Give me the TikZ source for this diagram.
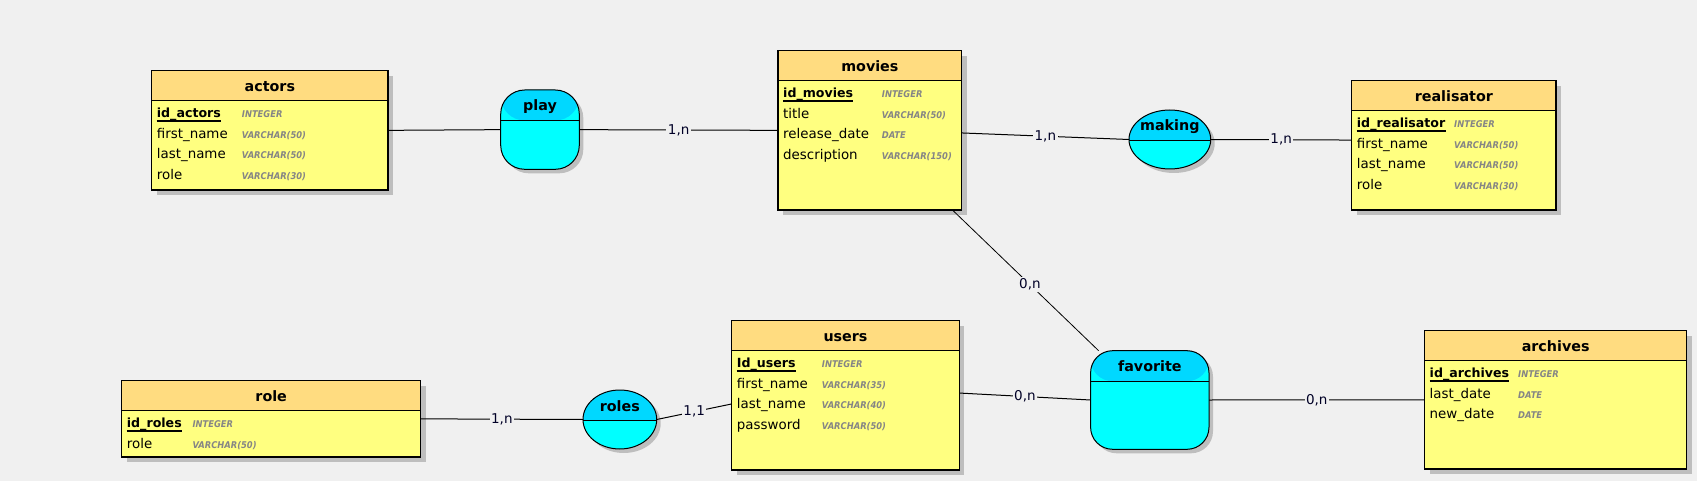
\documentclass[tikz,border=0pt]{standalone}
\usepackage{fontspec}
\setmainfont{DejaVu Sans}
\newfontfamily\typefont{DejaVu Sans Condensed}
\usetikzlibrary{fit,shapes.geometric}
\definecolor{bg}{HTML}{F0F0F0}
\definecolor{tblhead}{HTML}{FFDC80}
\definecolor{tblbody}{HTML}{FFFF80}
\definecolor{enthead}{HTML}{00D8FF}
\definecolor{entbody}{HTML}{00FFFF}
\definecolor{shadowc}{HTML}{BEBEBE}
\definecolor{typec}{HTML}{858585}
\tikzset{
  tbl/.style={draw=black, line width=1.2pt, fill=tblbody, inner sep=0pt, outer sep=0pt,
    preaction={fill=shadowc, transform canvas={shift={(5pt,-5pt)}}},
    path picture={\fill[tblhead] ([yshift=2pt]path picture bounding box.north west) rectangle ([yshift=-29.5pt]path picture bounding box.north east);
      \draw[line width=1.2pt] ([yshift=-29.5pt]path picture bounding box.north west) -- ([yshift=-29.5pt]path picture bounding box.north east);}},
  ent/.style={draw=black, line width=1pt, fill=entbody, inner sep=0pt, outer sep=0pt,
    preaction={fill=shadowc, transform canvas={shift={(4pt,-4pt)}}},
    path picture={\fill[enthead] ([yshift=2pt]path picture bounding box.north west) rectangle ([yshift=-30.5pt]path picture bounding box.north east);
      \draw[line width=1pt] ([yshift=-30.5pt]path picture bounding box.north west) -- ([yshift=-30.5pt]path picture bounding box.north east);}},
  ttl/.style={inner sep=0pt, anchor=base, font=\fontsize{14.3}{16}\selectfont\bfseries},
  keyf/.style={inner sep=0pt, anchor=base west, font=\fontsize{12.6}{15}\selectfont\bfseries},
  fld/.style={inner sep=0pt, anchor=base west, font=\fontsize{13.4}{15}\selectfont},
  typf/.style={inner sep=0pt, anchor=base west, text=typec, font=\typefont\fontsize{9.3}{11}\selectfont\bfseries\itshape},
  conn/.style={draw=black, line width=1pt},
  lbl/.style={fill=bg, inner sep=1.5pt, font=\fontsize{13.5}{15}\selectfont, text=black!85!blue}
}
\newcommand\tbfields[5]{%
  \node[keyf] (#1-k) at ([xshift=5pt,yshift=-46.7pt]#1.north west) {#3};
  \draw[line width=1.3pt] ([yshift=-3.5pt]#1-k.base west) -- ([yshift=-3.5pt]#1-k.base east);
  \node[typf] (#1-tk) at ([xshift=#2pt,yshift=-46.7pt]#1.north west) {#4};
  \foreach \fn/\ft [count=\i] in {#5} {
    \node[fld] (#1-f\i) at ([xshift=5pt,yshift={-46.7pt-20.7pt*\i}]#1.north west) {\fn};
    \node[typf] (#1-t\i) at ([xshift=#2pt,yshift={-46.7pt-20.7pt*\i}]#1.north west) {\ft};
  }
}
\begin{document}
\begin{tikzpicture}[x=1pt,y=-1pt]
\path[fill=bg] (0,0) rectangle (1697,481);
\useasboundingbox (0,0) rectangle (1697,481);

% tables
\node[tbl, fit={(151.7,70.7) (388,190)}] (actors) {};
\node[tbl, fit={(778,50.7) (961.7,210)}] (movies) {};
\node[tbl, fit={(1351.7,80.7) (1556,210)}] (realisator) {};
\node[tbl, fit={(121.7,380.7) (420.7,457)}] (role) {};
\node[tbl, fit={(731.7,320.7) (959.3,470)}] (users) {};
\node[tbl, fit={(1424.5,330.7) (1686.8,469)}] (archives) {};

\node[ttl] (actors-t) at ([yshift=-20.5pt]actors.north) {actors};
\node[ttl] (movies-t) at ([yshift=-20.5pt]movies.north) {movies};
\node[ttl] (realisator-t) at ([yshift=-20.5pt]realisator.north) {realisator};
\node[ttl] (role-t) at ([yshift=-20.5pt]role.north) {role};
\node[ttl] (users-t) at ([yshift=-20.5pt]users.north) {users};
\node[ttl] (archives-t) at ([yshift=-20.5pt]archives.north) {archives};

\tbfields{actors}{90}{id\_actors}{INTEGER}{first\_name/VARCHAR(50), last\_name/VARCHAR(50), role/VARCHAR(30)}
\tbfields{movies}{103.7}{id\_movies}{INTEGER}{title/VARCHAR(50), release\_date/DATE, description/VARCHAR(150)}
\tbfields{realisator}{102.3}{id\_realisator}{INTEGER}{first\_name/VARCHAR(50), last\_name/VARCHAR(50), role/VARCHAR(30)}
\tbfields{role}{70.6}{id\_roles}{INTEGER}{role/VARCHAR(50)}
\tbfields{users}{90}{Id\_users}{INTEGER}{first\_name/VARCHAR(35), last\_name/VARCHAR(40), password/VARCHAR(50)}
\tbfields{archives}{93.5}{id\_archives}{INTEGER}{last\_date/DATE, new\_date/DATE}

% associations
\node[ent, rounded corners=24pt, fit={(500.7,90) (579.3,169.3)}] (play) {};
\node[ent, ellipse, minimum width=81.7pt, minimum height=59pt] (making) at (1169.85,139.5) {};
\node[ent, ellipse, minimum width=73.7pt, minimum height=59pt] (roles) at (619.85,419.5) {};
\node[ent, rounded corners=22pt, fit={(1090.6,350.7) (1209,449.3)}] (favorite) {};

\node[ttl] (play-t) at ([yshift=-21pt]play.north) {play};
\node[ttl] (making-t) at ([yshift=-21pt]making.north) {making};
\node[ttl] (roles-t) at ([yshift=-21pt]roles.north) {roles};
\node[ttl] (favorite-t) at ([yshift=-20.5pt]favorite.north) {favorite};

% connectors
\draw[conn] (actors.east) -- (play.west);
\draw[conn] (play.east) -- node[lbl] {1,n} (movies.west);
\draw[conn] ([yshift=-2.6pt]movies.east) -- node[lbl] {1,n} (making.west);
\draw[conn] (making.east) -- node[lbl] {1,n} ([yshift=5.3pt]realisator.west);
\draw[conn, line width=0.8pt] (movies) -- node[lbl, pos=0.53] {0,n} (favorite);
\draw[conn] ([yshift=2.3pt]users.east) -- node[lbl] {0,n} (favorite.west);
\draw[conn] (favorite.east) -- node[lbl] {0,n} (archives.west);
\draw[conn] (role.east) -- node[lbl] {1,n} (roles.west);
\draw[conn] (roles.east) -- node[lbl] {1,1} ([yshift=-8.6pt]users.west);
\end{tikzpicture}
\end{document}
